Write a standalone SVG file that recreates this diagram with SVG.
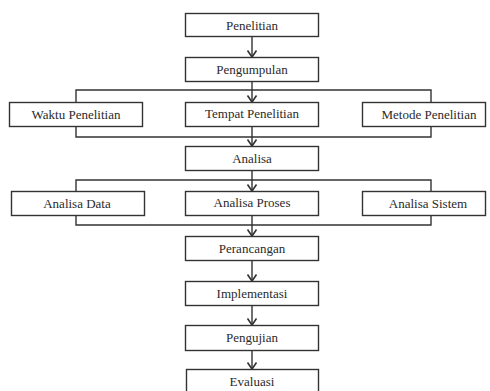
<svg xmlns="http://www.w3.org/2000/svg" width="490" height="391" viewBox="0 0 490 391">
<style>
.box{fill:#fff;stroke:#333;stroke-width:1.4}
.t{font-family:"Liberation Serif","Times New Roman","DejaVu Serif",serif;font-size:13px;fill:#2a2a2a;text-anchor:middle}
.c{fill:none;stroke:#333;stroke-width:1.4}
</style>
<defs>
<marker id="ah" markerUnits="userSpaceOnUse" markerWidth="12" markerHeight="12" viewBox="0 0 12 12" refX="10" refY="6" orient="auto">
<path d="M3.5 1.5 L10 6 L3.5 10.5" fill="none" stroke="#333" stroke-width="1.6"/>
</marker>
</defs>
<rect width="490" height="391" fill="#fff"/>
<g id="connectors">
<line class="c" x1="252" y1="37" x2="252" y2="57" marker-end="url(#ah)"/>
<line class="c" x1="252" y1="81" x2="252" y2="102" marker-end="url(#ah)"/>
<polyline class="c" points="76,102 76,90 431,90 431,102"/>
<polyline class="c" points="76,127 76,137 431,137 431,127"/>
<line class="c" x1="252" y1="127" x2="252" y2="146" marker-end="url(#ah)"/>
<line class="c" x1="252" y1="170" x2="252" y2="191" marker-end="url(#ah)"/>
<polyline class="c" points="76,191 76,180 431,180 431,191"/>
<polyline class="c" points="76,215 76,225 431,225 431,215"/>
<line class="c" x1="252" y1="215" x2="252" y2="236" marker-end="url(#ah)"/>
<line class="c" x1="252" y1="260" x2="252" y2="281" marker-end="url(#ah)"/>
<line class="c" x1="252" y1="305" x2="252" y2="325" marker-end="url(#ah)"/>
<line class="c" x1="252" y1="350" x2="252" y2="369" marker-end="url(#ah)"/>
</g>
<g id="penelitian"><rect class="box" x="185.5" y="13.5" width="133" height="23"/><text class="t" x="252" y="29.5">Penelitian</text></g>
<g id="pengumpulan"><rect class="box" x="185.5" y="57.5" width="133" height="24"/><text class="t" x="252" y="73.5">Pengumpulan</text></g>
<g id="waktu"><rect class="box" x="9.5" y="102.5" width="133" height="24"/><text class="t" x="76" y="118.5">Waktu Penelitian</text></g>
<g id="tempat"><rect class="box" x="185.5" y="102.5" width="133" height="24"/><text class="t" x="252" y="118">Tempat Penelitian</text></g>
<g id="metode"><rect class="box" x="362.5" y="102.5" width="123" height="24"/><text class="t" x="429" y="118.5">Metode Penelitian</text></g>
<g id="analisa"><rect class="box" x="185.5" y="146.5" width="133" height="24"/><text class="t" x="252" y="162.5">Analisa</text></g>
<g id="analisa-data"><rect class="box" x="11.5" y="191.5" width="133" height="24"/><text class="t" x="77" y="207.5">Analisa Data</text></g>
<g id="analisa-proses"><rect class="box" x="185.5" y="191.5" width="133" height="24"/><text class="t" x="252" y="207">Analisa Proses</text></g>
<g id="analisa-sistem"><rect class="box" x="362.5" y="191.5" width="123" height="24"/><text class="t" x="428" y="207.5">Analisa Sistem</text></g>
<g id="perancangan"><rect class="box" x="185.5" y="236.5" width="133" height="24"/><text class="t" x="252" y="252.5">Perancangan</text></g>
<g id="implementasi"><rect class="box" x="185.5" y="281.5" width="133" height="24"/><text class="t" x="252" y="297.5">Implementasi</text></g>
<g id="pengujian"><rect class="box" x="185.5" y="325.5" width="133" height="25"/><text class="t" x="252" y="341.5">Pengujian</text></g>
<g id="evaluasi"><rect class="box" x="186.5" y="369.5" width="132" height="25"/><text class="t" x="252" y="385.5">Evaluasi</text></g>
</svg>
